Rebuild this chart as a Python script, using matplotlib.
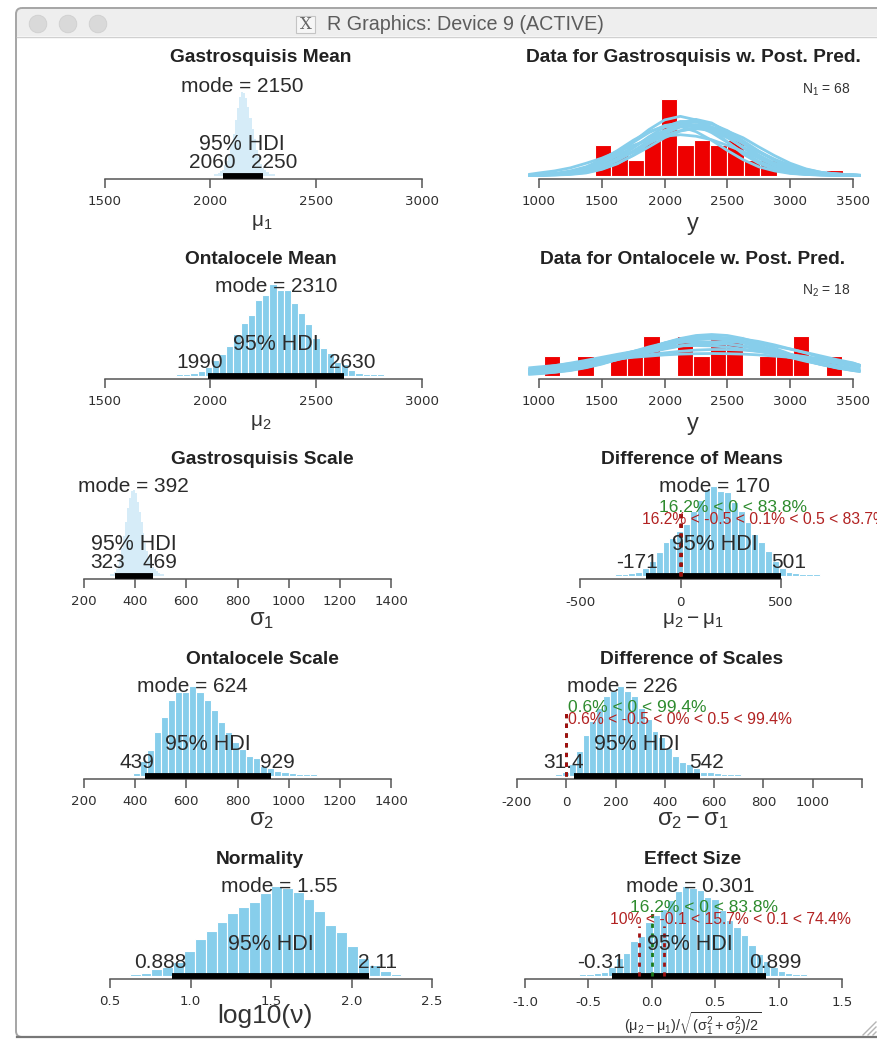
import matplotlib
matplotlib.use("Agg")
import matplotlib.pyplot as plt
from matplotlib.patches import Rectangle, Circle, FancyBboxPatch

W, H = 877, 1039
plt.rcParams['font.family'] = ['Liberation Sans', 'DejaVu Sans']
plt.rcParams['mathtext.fontset'] = 'custom'
plt.rcParams['mathtext.rm'] = 'Liberation Sans'
plt.rcParams['mathtext.it'] = 'Liberation Sans:italic'
plt.rcParams['mathtext.bf'] = 'Liberation Sans:bold'

# ---- posterior histograms: first bin centre, bin width, relative heights ----
mu1_start, mu1_width = 2020, 10
mu1_heights = [.02,.02,.03,.05,.07,.12,.17,.24,.37,.5,.66,.8,.93,1.0,.98,.92,.82,.68,.55,.43,.3,.22,.14,.09,.06,.04,.02,.02,.02]
mu2_start, mu2_width = 1855, 33.9
mu2_heights = [.02,.02,.03,.05,.09,.17,.23,.32,.45,.57,.66,.82,.87,1.0,.93,.93,.79,.68,.56,.41,.3,.24,.15,.12,.06,.03,.02,.02,.02]
sig1_start, sig1_width = 305, 7.5
sig1_heights = [.02,.02,.04,.07,.12,.2,.32,.46,.62,.78,.9,.98,1.0,.96,.86,.74,.62,.5,.38,.29,.21,.15,.1,.07,.05,.03,.02,.02]
sig2_start, sig2_width = 404, 27.7
sig2_heights = [.03,.16,.28,.48,.65,.84,.93,.93,1.0,.93,.84,.73,.59,.48,.37,.3,.22,.19,.11,.08,.05,.04,.03,.02,.02,.02]
nu_start, nu_width = 0.656, 0.0675
nu_heights = [.02,.03,.07,.09,.15,.27,.41,.5,.6,.7,.76,.82,.92,1.0,.97,.93,.85,.72,.56,.48,.33,.19,.12,.05,.02]
dmu_start, dmu_width = -310, 34
dmu_heights = [.02,.02,.03,.05,.09,.17,.27,.38,.42,.5,.58,.72,.84,.97,1.0,.95,.93,.82,.72,.6,.47,.38,.28,.17,.09,.05,.03,.02,.02,.02]
dsig_start, dsig_width = -32, 28
dsig_heights = [.02,.04,.13,.28,.46,.61,.76,.89,.94,1.0,.94,.89,.76,.63,.5,.43,.31,.22,.16,.13,.09,.05,.04,.03,.02,.02,.02]
eff_start, eff_width = -0.545, 0.058
eff_heights = [.02,.02,.03,.05,.1,.2,.26,.39,.44,.6,.68,.74,.85,.95,1.0,.98,.96,.88,.86,.73,.62,.55,.46,.35,.25,.17,.1,.06,.03,.02,.02]

# ---- observed data histograms (counts) ----
y1_start, y1_width = 1510, 131.6
y1_counts = [6,4,3,7,15,6,7,6,7,3,3,0,0,0,1]
y2_start, y2_width = 1105, 132
y2_counts = [1,0,1,0,1,1,2,0,2,1,2,2,0,1,1,2,0,1]

# ---- posterior predictive curves, read at a common grid of y values ----
grid_y = [915,1000,1125,1250,1375,1500,1625,1750,1875,2000,2125,2250,2375,2500,2625,2750,2875,3000,3125,3250,3375,3500,3560]
pred1 = [
 [.0,.1,.2,.5,1.2,2.4,4.2,6.6,9.0,10.9,11.6,10.9,9.0,6.6,4.2,2.4,1.2,.5,.2,.1,.0,.0,.0],
 [.2,.5,.9,1.5,2.4,3.4,4.7,5.9,7.0,7.7,8.0,7.7,7.0,5.9,4.7,3.4,2.4,1.5,.9,.5,.3,.1,.1],
 [.0,.1,.2,.4,.9,1.7,3.0,4.6,6.4,8.2,9.5,10,9.5,8.2,6.4,4.6,3.0,1.7,.9,.4,.2,.1,.0],
 [.0,.1,.3,.6,1.2,2.0,3.2,4.7,6.3,7.8,8.8,9.2,8.8,7.8,6.3,4.7,3.2,2.0,1.2,.6,.3,.1,.0],
 [.0,.1,.2,.4,1.0,1.9,3.4,5.4,7.6,9.5,10.6,10.6,9.5,7.6,5.4,3.4,1.9,1.0,.4,.2,.1,.0,.0],
 [.0,.1,.3,.7,1.4,2.4,3.9,5.6,7.4,8.8,9.6,9.6,8.8,7.4,5.6,3.9,2.4,1.4,.7,.3,.1,.1,.0],
 [.0,.0,.1,.2,.5,1.2,2.3,4.0,6.3,8.5,10.3,11.0,10.3,8.5,6.3,4.0,2.3,1.2,.5,.2,.1,.0,.0],
 [.1,.2,.4,.9,1.7,3.1,4.9,6.9,8.6,9.6,9.6,8.6,6.9,4.9,3.1,1.7,.9,.4,.2,.1,.0,.0,.0],
 [.0,.0,.1,.3,.6,1.3,2.4,3.9,5.6,7.4,8.7,9.4,9.4,8.7,7.4,5.6,3.9,2.4,1.3,.6,.3,.1,.0],
 [.0,.1,.2,.4,.9,1.7,3.0,4.8,6.8,8.8,10.1,10.5,10.1,8.8,6.8,4.8,3.0,1.7,.9,.4,.2,.1,.0],
 [.0,.1,.3,.7,1.5,2.8,4.5,6.5,8.4,9.8,10.3,9.8,8.4,6.5,4.5,2.8,1.5,.7,.3,.1,.0,.0,.0],
]
pred2 = [
 [.06,.09,.16,.25,.39,.57,.81,1.07,1.36,1.63,1.85,2.0,2.05,2.0,1.85,1.63,1.36,1.07,.81,.57,.39,.25,.2],
 [.38,.43,.50,.59,.67,.75,.83,.91,.97,1.03,1.07,1.09,1.1,1.09,1.07,1.03,.97,.91,.83,.75,.67,.59,.5],
 [.3,.37,.49,.62,.76,.91,1.06,1.2,1.32,1.42,1.48,1.5,1.48,1.42,1.32,1.2,1.06,.91,.76,.62,.49,.37,.32],
 [.14,.19,.26,.37,.49,.63,.79,.97,1.15,1.32,1.47,1.59,1.67,1.7,1.67,1.59,1.47,1.32,1.15,.97,.79,.63,.5],
 [.13,.18,.27,.39,.55,.74,.97,1.2,1.43,1.62,1.77,1.85,1.85,1.77,1.62,1.43,1.2,.97,.74,.55,.39,.27,.22],
 [.29,.34,.42,.51,.61,.72,.83,.94,1.04,1.13,1.21,1.27,1.3,1.3,1.27,1.21,1.13,1.04,.94,.83,.72,.61,.5],
 [.07,.1,.17,.27,.41,.6,.84,1.11,1.38,1.62,1.82,1.93,1.95,1.87,1.71,1.5,1.25,.99,.75,.54,.37,.25,.2],
 [.23,.28,.37,.48,.6,.74,.89,1.05,1.21,1.36,1.48,1.57,1.6,1.57,1.48,1.36,1.21,1.05,.89,.74,.6,.48,.42],
 [.2,.25,.34,.47,.62,.81,1.0,1.2,1.38,1.54,1.65,1.7,1.68,1.6,1.46,1.29,1.1,.9,.71,.55,.41,.29,.24],
 [.1,.14,.2,.3,.43,.6,.8,1.02,1.25,1.46,1.65,1.79,1.87,1.88,1.82,1.7,1.53,1.33,1.12,.91,.72,.55,.47],
]

# ---- tick values ----
ticks_mu = [1500,2000,2500,3000]
ticks_sig = [200,400,600,800,1000,1200,1400]
ticks_y = [1000,1500,2000,2500,3000,3500]
ticks_nu = [0.5,1.0,1.5,2.0,2.5]
ticks_dmu = [-500,0,500]
ticks_dsig = [-200,0,200,400,600,800,1000,1200]
labels_dsig = ['-200','0','200','400','600','800','1000','']
ticks_eff = [-1.0,-0.5,0.0,0.5,1.0,1.5]

SKY = '#87CEEB'
PALE = '#d6ecf8'
DARK = '#2b2b2b'
fig = plt.figure(figsize=(W/100, H/100), dpi=100, facecolor='white')
AXH = 100.0

def make_ax(x0, x1, base, xlim, ticks, ticklabels, ymax):
    ax = fig.add_axes([x0/W, 1-base/H, (x1-x0)/W, AXH/H], facecolor='none')
    ax.set_xlim(*xlim)
    ax.set_ylim(0, ymax)
    ax.set_yticks([])
    for s in ('top', 'left', 'right'):
        ax.spines[s].set_visible(False)
    sp = ax.spines['bottom']
    sp.set_position(('outward', 2.4))
    sp.set_bounds(xlim[0], xlim[1])
    sp.set_color('#555555')
    sp.set_linewidth(1.1)
    ax.set_xticks(ticks)
    ax.set_xticklabels(ticklabels, fontfamily='DejaVu Sans', fontsize=9.6, color='#2f2f2f')
    ax.tick_params(axis='x', length=6.8, width=1.1, color='#555555', pad=5)
    return ax

def t(ax, x, dy, s, size=15, color=DARK, dx=0, ha='center'):
    ax.annotate(s, xy=(x, dy/AXH), xycoords=ax.get_xaxis_transform(),
                xytext=(dx*0.72, 0), textcoords='offset points',
                ha=ha, va='center', fontsize=size, color=color, zorder=6,
                annotation_clip=False)

def post(x0, x1, base, xlim, ticks, labels, start, width, heights, mode, lo, hi,
         mode_s, lo_s, hi_s, hdi_x, dxlo, dxhi, peak=90, hdi_y=13, pale=False):
    ax = make_ax(x0, x1, base, xlim, ticks, labels, AXH/peak)
    centers = [start + i*width for i in range(len(heights))]
    if pale:
        ax.bar(centers, heights, width=width, color=PALE, linewidth=0, clip_on=False, zorder=2)
    else:
        ax.bar(centers, heights, width=width, color=SKY, edgecolor='white', linewidth=0.8, clip_on=False, zorder=2)
    ax.plot([lo, hi], [0, 0], color='black', lw=4.2, solid_capstyle='butt', clip_on=False, zorder=4)
    t(ax, mode, 89, 'mode = ' + mode_s)
    t(ax, hdi_x, 31, '95% HDI', size=15.5)
    t(ax, lo, hdi_y, lo_s, dx=dxlo)
    t(ax, hi, hdi_y, hi_s, dx=dxhi)
    return ax

def refs(ax, zero_top, rope, rope_top, green, red, gx, rx, rha='center'):
    ax.plot([0, 0], [0, zero_top/AXH*ax.get_ylim()[1]], color='#1a7a1a', lw=2, ls=(0, (1.5, 2)), zorder=5, clip_on=False)
    for r in rope:
        ax.plot([r, r], [0, rope_top/AXH*ax.get_ylim()[1]], color='#a01010', lw=2, ls=(0, (1.5, 2)), zorder=5, clip_on=False)
    t(ax, gx, 69, green, size=12.5, color='#2E8B2E')
    t(ax, rx, 56, red, size=11.3, color='#B22222', ha=rha)

def data_panel(base, start, width, counts, curves, ymax, note, note_y):
    ax = make_ax(539, 853, base, (1000, 3500), ticks_y, [str(v) for v in ticks_y], ymax)
    centers = [start + i*width for i in range(len(counts))]
    ax.bar(centers, counts, width=width, color='#EE0000', edgecolor='white', linewidth=0.8, zorder=2)
    for c in curves:
        ax.plot(grid_y, c, color=SKY, lw=2.0, zorder=3, clip_on=False, solid_capstyle='butt')
    ax.text(826, note_y, note, ha='center', va='center', fontsize=10, color='#333333',
            transform=page.transData, zorder=6)
    return ax

# page layer in pixel coordinates (window frame, titles, axis names)
page = fig.add_axes([0, 0, 1, 1], facecolor='none', zorder=10)
page.set_xlim(0, W); page.set_ylim(H, 0); page.axis('off')
frame = FancyBboxPatch((16, 8), W+30, 1029, boxstyle='round,pad=0,rounding_size=6',
                       fc='none', ec='#a5a5a5', lw=1.4, clip_on=True)
page.add_patch(frame)
page.add_patch(Rectangle((17, 9), W, 27, fc='#eeeeee', ec='none', zorder=0))
page.plot([17, W], [36.5, 36.5], color='#d0d0d0', lw=1)
page.plot([17, W], [1037, 1037], color='#777777', lw=1.6)
for cx in (38, 68, 98):
    page.add_patch(Circle((cx, 24), 8.8, fc='#d9d9d9', ec='#cfcfcf', lw=0.6))
page.add_patch(Rectangle((296, 16), 19, 17, fc='#f6f6f6', ec='#c4c4c4', lw=0.8))
page.text(305.5, 24.5, 'X', ha='center', va='center', fontsize=12, color='#666666', family='DejaVu Serif')
page.text(465, 24.5, 'R Graphics: Device 9 (ACTIVE)', ha='center', va='center', fontsize=14.2, color='#5c5c5c')
for d in (4, 9, 14):
    page.plot([W-d, W-1], [1035, 1035-d+1], color='#b5b5b5', lw=1)

titles = [(261, 58, 'Gastrosquisis Mean'), (693, 58, 'Data for Gastrosquisis w. Post. Pred.'),
          (261, 259, 'Ontalocele Mean'), (693, 259, 'Data for Ontalocele w. Post. Pred.'),
          (262, 459, 'Gastrosquisis Scale'), (692, 459, 'Difference of Means'),
          (262, 659, 'Ontalocele Scale'), (692, 659, 'Difference of Scales'),
          (260, 859, 'Normality'), (693, 859, 'Effect Size')]
for x, y, s in titles:
    page.text(x, y, s, ha='center', va='center', fontsize=13.8, fontweight='bold', color='#222222')

names = [(262, 222, r'$\mathrm{\mu}_1$', 15), (693, 224, 'y', 17), (261, 422, r'$\mathrm{\mu}_2$', 15), (693, 424, 'y', 17),
         (262, 620, r'$\mathrm{\sigma}_1$', 17), (693, 621, r'$\mathrm{\mu}_2 - \mathrm{\mu}_1$', 15),
         (262, 820, r'$\mathrm{\sigma}_2$', 17), (693, 820, r'$\mathrm{\sigma}_2 - \mathrm{\sigma}_1$', 17),
         (265, 1016, 'log10(\u03bd)', 19),
         (693, 1024, r'$(\mathrm{\mu}_2 - \mathrm{\mu}_1)/\sqrt{(\mathrm{\sigma}_1^2 + \mathrm{\sigma}_2^2)/2}$', 10.4)]
for x, y, s, fs in names:
    page.text(x, y, s, ha='center', va='center', fontsize=fs, color='#333333')

str_ = lambda seq: [str(v) for v in seq]
post(104.5, 422, 175.5, (1500, 3000), ticks_mu, str_(ticks_mu), mu1_start, mu1_width, mu1_heights, 2150, 2060, 2250, '2150', '2060', '2250', 2150, -11, 11, peak=84, pale=True)
post(104.5, 422, 375.5, (1500, 3000), ticks_mu, str_(ticks_mu), mu2_start, mu2_width, mu2_heights, 2310, 1990, 2630, '2310', '1990', '2630', 2310, -9, 9, peak=92)
post(84, 391, 575.5, (200, 1400), ticks_sig, str_(ticks_sig), sig1_start, sig1_width, sig1_heights, 392, 323, 469, '392', '323', '469', 396, -8, 7, peak=86, pale=True)
post(84, 391, 775.5, (200, 1400), ticks_sig, str_(ticks_sig), sig2_start, sig2_width, sig2_heights, 624, 439, 929, '624', '439', '929', 684, -8, 7, peak=90)
post(110, 432, 975.5, (0.5, 2.5), ticks_nu, str_(ticks_nu), nu_start, nu_width, nu_heights, 1.55, 0.888, 2.11, '1.55', '0.888', '2.11', 1.5, -12, 8, peak=90)

data_panel(175.5, y1_start, y1_width, y1_counts, pred1, AXH/5.1, r'N$_1$ = 68', 90)
data_panel(375.5, y2_start, y2_width, y2_counts, pred2, AXH/20.0, r'N$_2$ = 18', 291)

a = post(580, 781, 576, (-500, 500), ticks_dmu, str_(ticks_dmu), dmu_start, dmu_width, dmu_heights, 170, -171, 501, '170', '-171', '501', 170, -9, 7, peak=90)
refs(a, 63, [-0.5, 0.5], 63, '16.2% < 0 < 83.8%', '16.2% < -0.5 < 0.1% < 0.5 < 83.7%', 260, -190, 'left')
a = post(517, 862, 776, (-200, 1200), ticks_dsig, labels_dsig, dsig_start, dsig_width, dsig_heights, 226, 31.4, 542, '226', '31.4', '542', 287, -10, 7, peak=90)
refs(a, 63, [-0.5, 0.5], 63, '0.6% < 0 < 99.4%', '0.6% < -0.5 < 0% < 0.5 < 99.4%', 286, 460)
a = post(525, 842, 976, (-1.0, 1.5), ticks_eff, str_(ticks_eff), eff_start, eff_width, eff_heights, 0.301, -0.31, 0.899, '0.301', '-0.31', '0.899', 0.301, -12, 10, peak=90)
refs(a, 63, [-0.1, 0.1], 50, '16.2% < 0 < 83.8%', '10% < -0.1 < 15.7% < 0.1 < 74.4%', 0.41, 0.62)

fig.savefig('out.png', dpi=100, facecolor='white')
